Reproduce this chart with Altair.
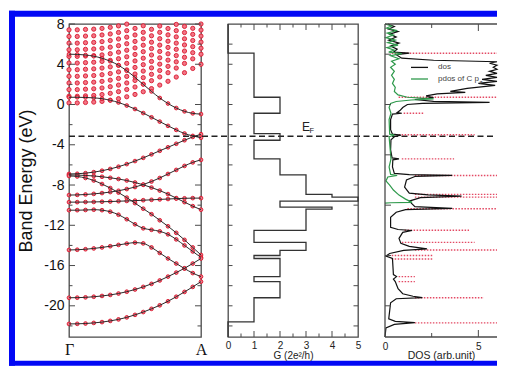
import altair as alt
import pandas as pd

FONT = "Liberation Sans"
SERIF = "Liberation Serif"
FRAME = "#4a4a4a"
RED = "#d8192f"
PINK = "#f27585"
GREEN = "#2f9a4c"
BLUE = "#0208f5"

# ---------------- data ----------------
K = [0, 0.0625, 0.125, 0.1875, 0.25, 0.3125, 0.375, 0.4375, 0.5,
     0.5625, 0.625, 0.6875, 0.75, 0.8125, 0.875, 0.9375, 1.0]

B1 = [5.0, 4.98, 4.92, 4.8, 4.6, 4.3, 3.9, 3.35, 2.7, 2.0, 1.3, 0.65, 0.1, -0.35, -0.68, -0.88, -0.95]
B2 = [0.72, 0.72, 0.7, 0.66, 0.58, 0.42, 0.2, -0.1, -0.45, -0.85, -1.27, -1.7, -2.12, -2.52, -2.88, -3.12, -3.3]
B3 = [-6.9, -6.88, -6.82, -6.72, -6.58, -6.4, -6.18, -5.92, -5.62, -5.3, -4.95, -4.6, -4.25, -3.9, -3.55, -3.22, -2.95]
B4 = [-7.0, -7.01, -7.05, -7.1, -7.18, -7.28, -7.4, -7.55, -7.75, -7.98, -8.25, -8.55, -8.9, -9.3, -9.7, -10.1, -10.45]
B5 = [-7.1, -7.15, -7.3, -7.55, -7.9, -8.3, -8.75, -9.25, -9.8, -10.35, -10.9, -11.5, -12.1, -12.75, -13.45, -14.2, -14.95]
B6 = [-9.0, -8.98, -8.94, -8.88, -8.8, -8.7, -8.57, -8.4, -8.2, -7.95, -7.65, -7.3, -6.9, -6.5, -6.1, -5.75, -5.5]
B7 = [-9.7, -9.7, -9.69, -9.68, -9.66, -9.64, -9.61, -9.58, -9.55, -9.51, -9.47, -9.43, -9.39, -9.35, -9.32, -9.3, -9.3]
B8 = [-10.5, -10.5, -10.48, -10.45, -10.5, -10.65, -10.95, -11.4, -11.9, -12.3, -12.45, -12.6, -12.9, -13.4, -14.0, -14.6, -15.2]
B9 = [-14.45, -14.43, -14.38, -14.3, -14.2, -14.08, -13.95, -13.82, -13.72, -13.8, -14.2, -14.75, -15.3, -15.8, -16.3, -16.75, -17.1]
B10 = [-19.2, -19.19, -19.16, -19.1, -19.02, -18.92, -18.78, -18.6, -18.38, -18.12, -17.82, -17.48, -17.1, -16.7, -16.27, -15.8, -15.3]
B11 = [-21.8, -21.79, -21.76, -21.7, -21.62, -21.5, -21.35, -21.15, -20.9, -20.62, -20.3, -19.95, -19.55, -19.1, -18.62, -18.12, -17.6]
VALENCE = [B1, B2, B3, B4, B5, B6, B7, B8, B9, B10, B11]

C1 = [0.16, 0.16, 0.2, 0.24, 0.31, 0.43, 0.58, 0.77, 1.0, 1.27, 1.58, 1.93, 2.31, 2.73, 3.16, 3.58, 4.0]
C2 = [0.82, 0.82, 0.86, 0.9, 0.99, 1.11, 1.28, 1.49, 1.74, 2.03, 2.37, 2.74, 3.16, 3.62, 4.08, 4.54, 5.0]
C3 = [1.48, 1.48, 1.52, 1.56, 1.64, 1.77, 1.93, 2.14, 2.39, 2.67, 3.0, 3.38, 3.79, 4.24, 4.69, 5.15, 5.6]
C4 = [2.14, 2.14, 2.18, 2.22, 2.3, 2.42, 2.59, 2.79, 3.03, 3.32, 3.64, 4.01, 4.41, 4.86, 5.31, 5.75, 6.2]
C5 = [2.8, 2.8, 2.84, 2.88, 2.96, 3.08, 3.24, 3.44, 3.68, 3.96, 4.28, 4.64, 5.04, 5.48, 5.92, 6.36, 6.8]
C6 = [3.46, 3.46, 3.5, 3.54, 3.62, 3.74, 3.89, 4.09, 4.33, 4.6, 4.92, 5.27, 5.67, 6.1, 6.53, 6.97, 7.4]
C7 = [4.12, 4.12, 4.16, 4.2, 4.28, 4.39, 4.55, 4.74, 4.97, 5.25, 5.56, 5.9, 6.29, 6.72, 7.15, 7.57, 8.0]
C8 = [4.78, 4.78, 4.82, 4.86, 4.93, 5.05, 5.2, 5.39, 5.62, 5.89, 6.19, 6.54, 6.92, 7.34, 7.76, 8.18, 8.6]
C9 = [5.44, 5.44, 5.48, 5.52, 5.59, 5.7, 5.85, 6.04, 6.27, 6.53, 6.83, 7.17, 7.55, 7.96, 8.37, 8.79, 9.2]
C10 = [6.1, 6.1, 6.14, 6.17, 6.25, 6.36, 6.51, 6.69, 6.91, 7.17, 7.47, 7.8, 8.17, 8.58, 8.99, 9.39, 9.8]
C11 = [6.76, 6.76, 6.8, 6.83, 6.91, 7.01, 7.16, 7.34, 7.56, 7.82, 8.11, 8.43, 8.8, 9.2, 9.6, 10.0, 10.4]
C12 = [7.42, 7.42, 7.46, 7.49, 7.56, 7.67, 7.81, 7.99, 8.21, 8.46, 8.74, 9.07, 9.42, 9.82, 10.21, 10.61, 11.0]
CONDUCTION = [C1, C2, C3, C4, C5, C6, C7, C8, C9, C10, C11, C12]

E_F = -3.15

# conductance G(E): band edges (top -> bottom) and the step value between them
G_EDGES = [8, 5.1, 0.72, -0.87, -2.9, -3.55, -5.4, -7.0, -8.93, -9.2, -9.6, -10.2,
           -10.4, -12.5, -13.7, -14.5, -15.0, -15.3, -17.1, -17.6, -19.2, -21.6, -23.1]
G_STEPS = [0, 1, 2, 1, 2, 1, 2, 3, 4, 5, 2, 4, 3, 1, 3, 2, 1, 2, 1, 2, 1, 0]

DOS_E = [8.0, 7.75, 7.5, 7.25, 7.0, 6.7, 6.4, 6.1, 5.8, 5.5, 5.2, 5.1, 4.95, 4.6, 4.4,
         4.25, 4.1, 3.9, 3.7, 3.5, 3.3, 3.1, 2.9, 2.7, 2.5, 2.3, 2.1, 1.9, 1.6, 1.3,
         1.2, 1.05, 0.85, 0.68, 0.5, 0.32, 0.22, 0.12, 0.0, -0.3, -0.6, -0.8, -0.87,
         -0.95, -1.5, -2.5, -2.95, -3.05, -3.2, -3.5, -4.5, -5.3, -5.4, -5.5, -6.2,
         -6.85, -6.97, -7.05, -7.15, -7.5, -8.2, -8.8, -8.97, -9.1, -9.25, -9.6,
         -10.15, -10.32, -10.45, -10.7, -11.2, -12.2, -12.42, -12.52, -12.7, -13.3,
         -13.8, -14.1, -14.35, -14.5, -14.8, -15.05, -15.3, -16.9, -17.1, -17.35,
         -17.6, -18.3, -18.8, -19.05, -19.18, -19.3, -19.7, -21.3, -21.55, -21.68,
         -21.85, -22.2, -23.1]
DOS_V = [0.15, 0.5, 0.2, 0.7, 0.25, 0.6, 0.2, 0.75, 0.3, 0.65, 0.45, 1.3, 0.6, 0.9, 2.6,
         7.2, 5.6, 7.3, 5.8, 7.1, 5.6, 6.9, 5.4, 6.6, 5.2, 6.3, 5.0, 5.9, 4.4, 3.5,
         4.3, 2.8, 2.2, 2.6, 1.6, 2.6, 5.6, 2.0, 1.2, 0.95, 0.8, 0.65, 0.9,
         0.4, 0.3, 0.3, 0.4, 0.85, 0.5, 0.32, 0.3, 0.38, 0.75, 0.42, 0.4,
         0.5, 1.3, 3.6, 1.6, 1.15, 1.05, 1.3, 2.3, 4.1, 1.9, 1.3,
         1.6, 3.6, 1.1, 0.6, 0.3, 0.3, 0.7, 1.45, 0.95, 0.75,
         0.85, 1.3, 2.25, 1.0, 0.25, 0.05, 0.4, 0.45, 0.62, 0.45,
         0.55, 0.7, 0.95, 1.5, 2.0, 0.6, 0.3, 0.2, 0.55, 1.6,
         0.5, 0.05, 0.0]

PDOS_E = [8.0, 7.8, 7.6, 7.35, 7.1, 6.9, 6.65, 6.4, 6.15, 5.9, 5.65, 5.4, 5.2, 5.05,
          4.85, 4.55, 4.3, 4.0, 3.7, 3.3, 2.9, 2.5, 2.1, 1.7, 1.3, 0.95, 0.72, 0.56,
          0.45, 0.3, 0.1, -0.3, -0.87, -1.5, -2.95, -3.05, -3.2, -5.4, -6.2, -6.95,
          -7.05, -7.2, -7.6, -8.0, -8.5, -9.0, -9.4, -9.72, -9.76, -9.8]
PDOS_V = [0.0, 0.35, 0.08, 0.65, 0.12, 0.45, 0.05, 0.55, 0.15, 0.7, 0.1, 0.5, 0.2, 0.9,
          0.3, 0.75, 0.35, 0.55, 0.3, 0.5, 0.35, 0.5, 0.4, 0.55, 0.5, 0.7, 1.2, 2.6,
          1.4, 0.6, 0.3, 0.22, 0.32, 0.22, 0.25, 0.5, 0.22, 0.32, 0.22, 0.3,
          0.65, 0.15, 0.05, 0.25, 0.45, 0.75, 1.1, 1.45, 0.3, 0.0]

# dotted reference levels in the DOS panel
LEVEL_E = [5.1, 0.72, -0.87, -3.0, -5.4, -7.05, -8.93, -9.2, -10.35, -12.5, -13.7,
           -14.45, -15.0, -15.35, -17.1, -17.6, -19.2, -21.7]
LEVEL_START = [0.36, 0.73, 1.0, 0.73, 0.9, 1.6, 1.6, 1.6, 1.2, 1.05, 0.9, 1.6, 0.36,
               0.36, 0.73, 0.73, 1.6, 1.6]
LEVEL_END = [6.9, 6.9, 2.1, 4.8, 3.7, 6.9, 6.9, 6.9, 6.9, 4.5, 4.8, 6.9, 2.6, 2.6,
             1.6, 1.6, 5.3, 6.3]

Y1_LABELS = [8, 4, 0, -4, -8, -12, -16, -20]
Y1_MINOR = [6, 2, -2, -6, -10, -14, -18, -22]
Y2_TICKS = [6, 4, 2, 0, -2, -4, -6, -8, -10, -12, -14, -16, -18, -20, -22]
X2_LABELS = [0, 1, 2, 3, 4, 5]
X2_MAJOR = [1, 2, 3, 4]
X2_MINOR = [0.5, 1.5, 2.5, 3.5, 4.5]
Y3_TICKS = [5, 0, -5, -10, -15, -20]
X3_LABELS = [0, 5]
X3_MAJOR = [5]
X3_MINOR = [2.5]

# ---------------- layout ----------------
H = 313
W1, W2, W3 = 132, 130, 112
RIGHT = 316 + W3          # right end of the page frame, relative to panel 1
yscale = alt.Scale(domain=[-23.1, 8], nice=False, zero=False, clamp=True)
kscale = alt.Scale(domain=[0, 1], nice=False, zero=False)
gscale = alt.Scale(domain=[0, 5], nice=False, zero=False)
dscale = alt.Scale(domain=[0, W3 / 18.67], nice=False, zero=False, clamp=True)

Y1_AXIS = alt.Axis(values=Y1_LABELS, labelExpr="'' + datum.value", ticks=False, tickSize=0,
                   domain=False, grid=False, labelFontSize=14, labelPadding=5, labelFont=FONT,
                   labelColor="#111", labelOverlap=False, labelFlush=False, labelBound=False,
                   title="Band Energy (eV)", titleFont=FONT, titleFontSize=18,
                   titleFontWeight="normal", titleColor="#111", titleX=-38, titleY=H / 2,
                   titleAngle=270, titleBaseline="alphabetic", titleAlign="center")
X1_AXIS = alt.Axis(values=[0, 1], labelExpr="datum.value == 0 ? 'Γ' : 'A'", ticks=False,
                   tickSize=0, domain=False, grid=False, labelFont=SERIF, labelFontSize=16,
                   labelBaseline="alphabetic", labelPadding=17, labelColor="#111",
                   labelFlush=False, labelOverlap=False, labelBound=False, title=None)
X2_AXIS = alt.Axis(values=X2_LABELS, labelExpr="'' + datum.value", ticks=False, tickSize=0,
                   domain=False, grid=False, labelFont=FONT, labelFontSize=10,
                   labelBaseline="alphabetic", labelPadding=11.5, labelColor="#222",
                   labelFlush=False, labelOverlap=False, labelBound=False,
                   title="G (2e²/h)", titleFont=FONT, titleFontSize=10, titleFontWeight="normal",
                   titleColor="#222", titleBaseline="alphabetic", titleY=21, titleX=W2 / 2,
                   titleAlign="center")
X3_AXIS = alt.Axis(values=X3_LABELS, labelExpr="'' + datum.value", ticks=False, tickSize=0,
                   domain=False, grid=False, labelFont=FONT, labelFontSize=10,
                   labelBaseline="alphabetic", labelPadding=12, labelColor="#222",
                   labelFlush=False, labelOverlap=False, labelBound=False,
                   title="DOS (arb.unit)", titleFont=FONT, titleFontSize=10.5,
                   titleFontWeight="normal", titleColor="#222", titleBaseline="alphabetic",
                   titleY=21.2, titleX=56, titleAlign="center")


def band_frame(bands):
    rows = []
    for i, es in enumerate(bands):
        for k, e in zip(K, es):
            rows.append({"band": i, "k": k, "E": e})
    return pd.DataFrame(rows)


def yticks(values, x0, x1, axis):
    return alt.Chart(pd.DataFrame({"E": values})).mark_rule(color=FRAME, strokeWidth=1).encode(
        y=alt.Y("E:Q", scale=yscale, axis=axis), x=alt.value(x0), x2=alt.value(x1))


def xticks(values, scale, y0, y1, axis):
    return alt.Chart(pd.DataFrame({"v": values})).mark_rule(color=FRAME, strokeWidth=1).encode(
        x=alt.X("v:Q", scale=scale, axis=axis), y=alt.value(y0), y2=alt.value(y1))


# ---------------- panel 1: band structure ----------------
val_df = band_frame(VALENCE)
cond_df = band_frame(CONDUCTION)
cond_df = cond_df[cond_df["E"] <= 8.05]

dot_style = dict(shape="circle", filled=True, fill=PINK, stroke=RED, strokeWidth=0.9, opacity=1)
cond_dots = alt.Chart(cond_df).mark_point(size=18, **dot_style).encode(
    x=alt.X("k:Q", scale=kscale, axis=X1_AXIS), y=alt.Y("E:Q", scale=yscale, axis=Y1_AXIS))
val_dots = alt.Chart(val_df).mark_point(size=14, **dot_style).encode(
    x=alt.X("k:Q", scale=kscale, axis=X1_AXIS), y=alt.Y("E:Q", scale=yscale, axis=Y1_AXIS))
val_lines = alt.Chart(val_df).mark_line(color="#2a2a2a", strokeWidth=1, interpolate="monotone").encode(
    x=alt.X("k:Q", scale=kscale, axis=X1_AXIS), y=alt.Y("E:Q", scale=yscale, axis=Y1_AXIS),
    detail="band:N")
ef_line = alt.Chart(pd.DataFrame({"E": [E_F]})).mark_rule(
    color="#222", strokeWidth=1.4, strokeDash=[6, 3.5]).encode(
    y=alt.Y("E:Q", scale=yscale, axis=Y1_AXIS), x=alt.value(0), x2=alt.value(RIGHT - 1))

one = pd.DataFrame({"a": [0]})
frame_parts = [(-60, -54, -13.3, 341.7), (-60, RIGHT, -13.3, -7.3), (-60, RIGHT, 336.7, 341.7)]
frame_layers = [
    alt.Chart(one).mark_rect(color=BLUE).encode(
        x=alt.value(a), x2=alt.value(b), y=alt.value(y0), y2=alt.value(y1))
    for a, b, y0, y1 in frame_parts
]

p1 = alt.layer(
    cond_dots, val_dots, val_lines,
    yticks(Y1_LABELS, 0, 6, Y1_AXIS), yticks(Y1_MINOR, 0, 3.5, Y1_AXIS),
    yticks(Y1_LABELS, W1 - 6, W1, Y1_AXIS), yticks(Y1_MINOR, W1 - 3.5, W1, Y1_AXIS),
    ef_line, *frame_layers,
).properties(width=W1, height=H)

# ---------------- panel 2: conductance ----------------
g_rows = []
for i, g in enumerate(G_STEPS):
    g_rows.append({"i": 2 * i, "G": g, "E": G_EDGES[i]})
    g_rows.append({"i": 2 * i + 1, "G": g, "E": G_EDGES[i + 1]})
g_df = pd.DataFrame(g_rows)

g_line = alt.Chart(g_df).mark_line(color="#333", strokeWidth=1.3).encode(
    x=alt.X("G:Q", scale=gscale, axis=X2_AXIS), y=alt.Y("E:Q", scale=yscale, axis=None),
    order="i:Q")
ef_text = alt.Chart(one).mark_text(text="E", font=FONT, fontSize=12, align="left",
                                   baseline="alphabetic", color="#222").encode(
    x=alt.value(74), y=alt.value(106.5))
ef_sub = alt.Chart(one).mark_text(text="F", font=FONT, fontSize=7.5, align="left",
                                  baseline="alphabetic", color="#222").encode(
    x=alt.value(81.5), y=alt.value(109))

p2 = alt.layer(
    g_line,
    yticks(Y2_TICKS, 0, 4.5, None), yticks(Y2_TICKS, W2 - 4.5, W2, None),
    xticks(X2_MAJOR, gscale, 0, 6, X2_AXIS), xticks(X2_MINOR, gscale, 0, 3.5, X2_AXIS),
    xticks(X2_MAJOR, gscale, H - 6, H, X2_AXIS), xticks(X2_MINOR, gscale, H - 3.5, H, X2_AXIS),
    ef_text, ef_sub,
).properties(width=W2, height=H)

# ---------------- panel 3: DOS ----------------
lev_df = pd.DataFrame({"E": LEVEL_E, "s": LEVEL_START, "e": LEVEL_END})
levels = alt.Chart(lev_df).mark_rule(color="#e34a64", strokeWidth=1.4,
                                     strokeDash=[1.5, 1.5]).encode(
    y=alt.Y("E:Q", scale=yscale, axis=None),
    x=alt.X("s:Q", scale=dscale, axis=X3_AXIS), x2="e:Q")
dos_df = pd.DataFrame({"i": range(len(DOS_E)), "E": DOS_E, "D": DOS_V})
pdos_df = pd.DataFrame({"i": range(len(PDOS_E)), "E": PDOS_E, "D": PDOS_V})
dos_line = alt.Chart(dos_df).mark_line(color="#111", strokeWidth=1.2).encode(
    x=alt.X("D:Q", scale=dscale, axis=X3_AXIS), y=alt.Y("E:Q", scale=yscale, axis=None),
    order="i:Q")
pdos_line = alt.Chart(pdos_df).mark_line(color=GREEN, strokeWidth=1.2).encode(
    x=alt.X("D:Q", scale=dscale, axis=X3_AXIS), y=alt.Y("E:Q", scale=yscale, axis=None),
    order="i:Q")

leg = [
    alt.Chart(one).mark_rule(color="#111", strokeWidth=1.3).encode(
        x=alt.value(26), x2=alt.value(43), y=alt.value(43.4)),
    alt.Chart(one).mark_rule(color=GREEN, strokeWidth=1.3).encode(
        x=alt.value(26), x2=alt.value(43), y=alt.value(55)),
    alt.Chart(one).mark_text(text="dos", font=FONT, fontSize=8, align="left",
                             baseline="middle", color="#444").encode(
        x=alt.value(53), y=alt.value(43.4)),
    alt.Chart(one).mark_text(text="pdos of C p", font=FONT, fontSize=8, align="left",
                             baseline="middle", color="#444").encode(
        x=alt.value(53), y=alt.value(55)),
    alt.Chart(one).mark_text(text="z", font=FONT, fontSize=6, align="left",
                             baseline="middle", color="#444").encode(
        x=alt.value(94.5), y=alt.value(58)),
]
borders = [
    alt.Chart(one).mark_rule(color=FRAME, strokeWidth=1.3).encode(
        x=alt.value(0), y=alt.value(0), y2=alt.value(H)),
    alt.Chart(one).mark_rule(color=FRAME, strokeWidth=1.3).encode(
        x=alt.value(0), x2=alt.value(W3), y=alt.value(0)),
    alt.Chart(one).mark_rule(color=FRAME, strokeWidth=1.3).encode(
        x=alt.value(0), x2=alt.value(W3), y=alt.value(H)),
]

p3 = alt.layer(
    levels, dos_line, pdos_line,
    yticks(Y3_TICKS, 0, 6, None),
    xticks(X3_MAJOR, dscale, 0, 7, X3_AXIS), xticks(X3_MINOR, dscale, 0, 4, X3_AXIS),
    xticks(X3_MAJOR, dscale, H - 7, H, X3_AXIS), xticks(X3_MINOR, dscale, H - 4, H, X3_AXIS),
    *leg, *borders,
).properties(width=W3, height=H, view=alt.ViewBackground(stroke="transparent"))

chart = alt.hconcat(p1, p2, p3, spacing=27, bounds="flush").properties(
    padding={"left": 0, "top": 2, "right": 0, "bottom": 0}
).configure_view(stroke=FRAME, strokeWidth=1.3).configure_axis(grid=False)

chart.save("out.html", embed_options={"renderer": "svg", "actions": False})
